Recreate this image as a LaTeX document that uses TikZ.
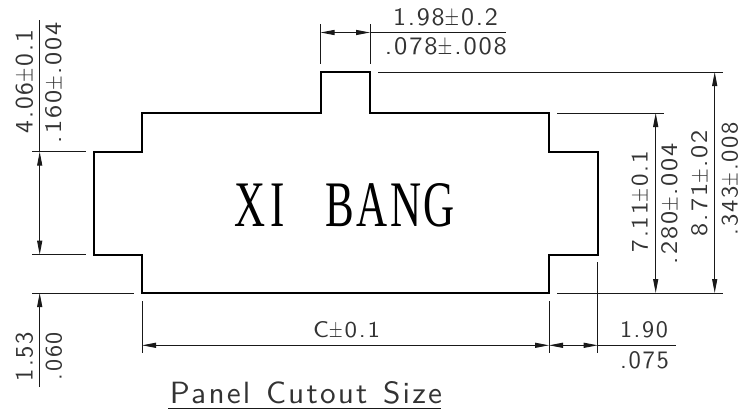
\documentclass[tikz,border=0pt]{standalone}
\usepackage{fontspec}
\usepackage{graphicx}
\setmainfont{Liberation Serif}
\setsansfont{Latin Modern Sans}[LetterSpace=7]
\usetikzlibrary{arrows.meta}
\newdimen\pxu \pxu=.75pt
\newcommand\fit[3]{\resizebox{#1\pxu}{#2\pxu}{#3}}
\newcommand\plusmin{\scalebox{.72}[1]{±}\kern.07em}
\tikzset{
  thin line/.style={line width=.7pt,black!90},
  outline/.style={line width=1.5pt,black,line join=miter},
  dimension/.style={thin line,{Triangle[length=10.5pt,width=3.8pt]}-{Triangle[length=10.5pt,width=3.8pt]}},
  end tip/.style={thin line,-{Triangle[length=10.5pt,width=3.8pt]}},
  label/.style={inner sep=0pt,outer sep=0pt,font=\sffamily,text=black!80},
}
\begin{document}
\begin{tikzpicture}[x=.75pt,y=-.75pt]
\useasboundingbox (0,0) rectangle (743,414);
% cutout outline
\draw[outline] (320.5,72) -- (370,72) -- (370,113) -- (549,113) -- (549,151.7) -- (597.7,151.7)
  -- (597.7,254.7) -- (549,254.7) -- (549,293) -- (142,293) -- (142,254.7) -- (93.5,254.7)
  -- (93.5,151.7) -- (142,151.7) -- (142,113) -- (320.5,113) -- cycle;
% named points
\coordinate (L1a) at (32,151.7); \coordinate (L1b) at (86,151.7);
\coordinate (L2a) at (32,254.7); \coordinate (L2b) at (86,254.7);
\coordinate (L3a) at (32,293);   \coordinate (L3b) at (134,293);
\coordinate (Ltop) at (39.7,20); \coordinate (Lu) at (39.7,151.7);
\coordinate (Ld) at (39.7,254.7); \coordinate (Lb) at (39.7,293); \coordinate (Lend) at (39.7,387);
\coordinate (T1a) at (320.5,24); \coordinate (T1b) at (320.5,64);
\coordinate (T2a) at (370,24);   \coordinate (T2b) at (370,64);
\coordinate (Tl) at (320.5,32.5); \coordinate (Tr) at (370,32.5); \coordinate (Tend) at (506,32.5);
\coordinate (R1a) at (378,72);  \coordinate (R1b) at (723,72);
\coordinate (R2a) at (557,113); \coordinate (R2b) at (664,113);
\coordinate (R3a) at (557,293); \coordinate (R3b) at (723,293);
\coordinate (Da) at (655.7,113); \coordinate (Db) at (655.7,293);
\coordinate (Ea) at (714.7,72);  \coordinate (Eb) at (714.7,293);
\coordinate (B1a) at (142,301); \coordinate (B1b) at (142,353);
\coordinate (B2a) at (549,301); \coordinate (B2b) at (549,353);
\coordinate (B3a) at (597.7,262); \coordinate (B3b) at (597.7,353);
\coordinate (Bl) at (142,345.3); \coordinate (Bm) at (549,345.3); \coordinate (Br) at (597.7,345.3); \coordinate (Bend) at (676,345.3);
\coordinate (Ua) at (168,408.3); \coordinate (Ub) at (441,408.3);
% extension lines
\draw[thin line] (L1a)--(L1b); \draw[thin line] (L2a)--(L2b); \draw[thin line] (L3a)--(L3b);
\draw[thin line] (T1a)--(T1b); \draw[thin line] (T2a)--(T2b);
\draw[thin line] (R1a)--(R1b); \draw[thin line] (R2a)--(R2b); \draw[thin line] (R3a)--(R3b);
\draw[thin line] (B1a)--(B1b); \draw[thin line] (B2a)--(B2b); \draw[thin line] (B3a)--(B3b);
% dimension lines
\draw[thin line] (Ltop)--(Lu);
\draw[dimension] (Lu)--(Ld);
\draw[end tip] (Lend)--(Lb);
\draw[dimension] (Tl)--(Tr);
\draw[thin line] (Tr)--(Tend);
\draw[dimension] (Da)--(Db);
\draw[dimension] (Ea)--(Eb);
\draw[dimension] (Bl)--(Bm);
\draw[dimension] (Bm)--(Br);
\draw[thin line] (Br)--(Bend);
\draw[thin line] (Ua)--(Ub);
% labels
\node[label,rotate=90] (a1) at (24.5,81.5) {\fit{103}{17}{4.06\plusmin 0.1}};
\node[label,rotate=90] (a2) at (54,82.5) {\fit{121}{16}{.160\plusmin .004}};
\node[label,rotate=90] (a3) at (24.5,356.5) {\fit{49}{17}{1.53}};
\node[label,rotate=90] (a4) at (54,356) {\fit{48}{16}{.060}};
\node[label] (b1) at (445.5,17.5) {\fit{105}{17}{1.98\plusmin 0.2}};
\node[label] (b2) at (446,46.5) {\fit{122}{17}{.078\plusmin .008}};
\node[label] (c1) at (346.5,330) {\fit{67}{16}{C\plusmin 0.1}};
\node[label] (c2) at (644,330) {\fit{48}{16}{1.90}};
\node[label] (c3) at (644.5,360.5) {\fit{49}{17}{.075}};
\node[label,rotate=90] (d1) at (640,201.5) {\fit{101}{16}{7.11\plusmin 0.1}};
\node[label,rotate=90] (d2) at (670,203.5) {\fit{121}{16}{.280\plusmin .004}};
\node[label,rotate=90] (d3) at (700,183) {\fit{106}{16}{8.71\plusmin .02}};
\node[label,rotate=90] (d4) at (730,178.5) {\fit{113}{16}{.343\plusmin .008}};
\node[label] (title) at (306,393) {\fit{272}{22}{Panel\hspace{.5em}Cutout\hspace{.5em}Size}};
\node[inner sep=0pt,outer sep=0pt,font=\rmfamily] (brand) at (345,205.5) {\fit{220}{43}{X\hspace{.1em}I\hspace{.95em}B\hspace{.06em}A\hspace{.06em}N\hspace{.06em}G}};
\end{tikzpicture}
\end{document}
